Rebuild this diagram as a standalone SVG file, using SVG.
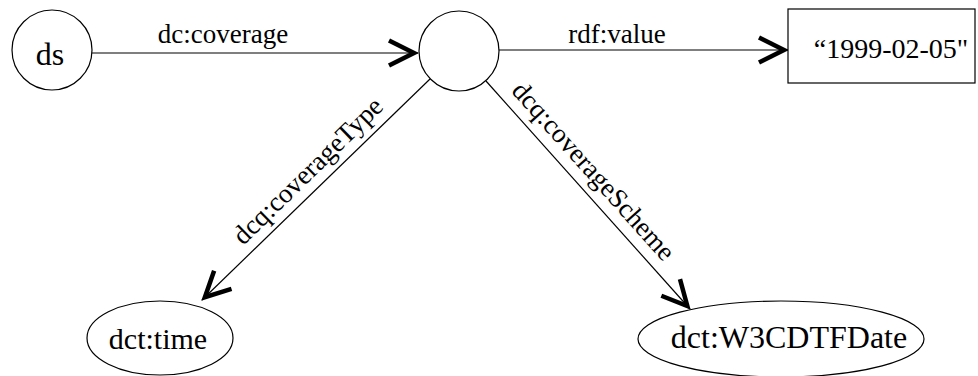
<svg xmlns="http://www.w3.org/2000/svg" width="978" height="376" viewBox="0 0 978 376">
<style>
.shape{fill:#fff;stroke:#000;stroke-width:1.2}
.edge{stroke:#000;stroke-width:1.2;fill:none;marker-end:url(#arr)}
text{font-family:'Liberation Serif','Times New Roman',serif;fill:#000;text-anchor:middle}
.node{font-size:32px}
.lit{font-size:28px}
.lbl{font-size:27px}
</style>
<defs>
<marker id="arr" markerUnits="userSpaceOnUse" orient="auto" refX="0" refY="0" markerWidth="40" markerHeight="40" overflow="visible">
<path d="M-29,-12.5 L-4,0 L-29,12.5" fill="none" stroke="#000" stroke-width="4.5" stroke-linejoin="miter" stroke-miterlimit="10"/>
</marker>
</defs>
<rect width="978" height="376" fill="#fff"/>
<g id="connectors">
<line class="edge" x1="92" y1="53" x2="418" y2="53"/>
<line class="edge" x1="499" y1="50" x2="788" y2="50"/>
<line class="edge" x1="430" y1="79" x2="202" y2="300"/>
<line class="edge" x1="486" y1="81" x2="690" y2="309"/>
<text class="lbl" x="223" y="43">dc:coverage</text>
<text class="lbl" x="617" y="43">rdf:value</text>
<text class="lbl" transform="translate(314,177) rotate(-44.3)">dcq:coverageType</text>
<text class="lbl" transform="translate(587,177) rotate(48.2)">dcq:coverageScheme</text>
</g>
<g id="node-ds">
<circle class="shape" cx="52" cy="50" r="40"/>
<text class="node" x="50" y="65">ds</text>
</g>
<g id="node-blank">
<circle class="shape" cx="459" cy="51" r="40"/>
</g>
<g id="node-value">
<rect class="shape" x="788" y="9" width="187" height="74"/>
<text class="lit" x="891" y="58">“1999-02-05"</text>
</g>
<g id="node-time">
<ellipse class="shape" cx="160" cy="338" rx="73" ry="37"/>
<text class="node" x="158" y="349" style="font-size:30px">dct:time</text>
</g>
<g id="node-w3cdtf">
<ellipse class="shape" cx="781" cy="339" rx="143" ry="38"/>
<text class="node" x="789" y="348">dct:W3CDTFDate</text>
</g>
</svg>
